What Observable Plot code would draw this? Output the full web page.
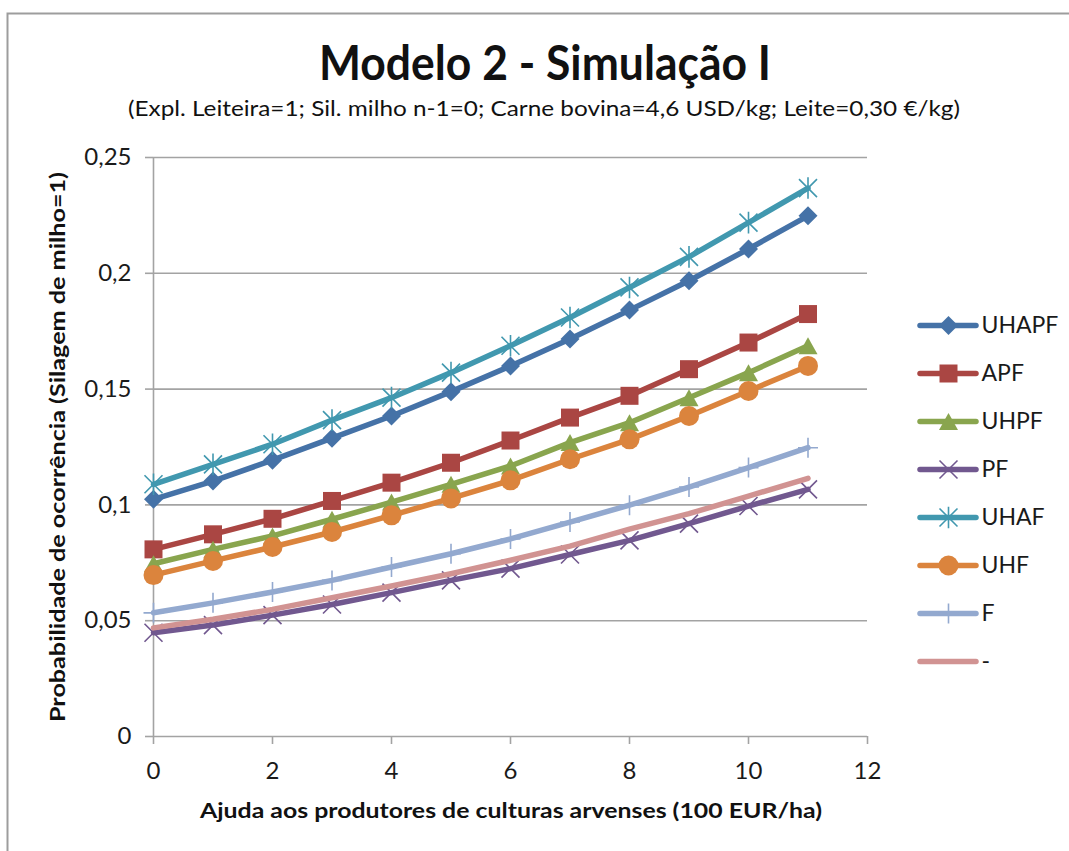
<!DOCTYPE html>
<html>
<head>
<meta charset="utf-8">
<script src="https://cdn.jsdelivr.net/npm/d3@7"></script>
<script src="https://cdn.jsdelivr.net/npm/@observablehq/plot@0.6"></script>
<style>
  body { margin: 0; background: #fff; }
  #chart { position: relative; width: 1069px; height: 851px; overflow: hidden; font-family: Lato, "Open Sans", sans-serif; }
  #chart > svg { position: absolute; }
</style>
</head>
<body>
<div id="chart"></div>
<script>
// Ajuda aos produtores de culturas arvenses (100 EUR/ha)
const ajuda = [0, 1, 2, 3, 4, 5, 6, 7, 8, 9, 10, 11];

// Probabilidade de ocorrência (Silagem de milho = 1), por cenário
const UHAPF = [0.1024, 0.1103, 0.1193, 0.1288, 0.1384, 0.1489, 0.1600, 0.1716, 0.1841, 0.1968, 0.2105, 0.2248];
const APF   = [0.0808, 0.0873, 0.0940, 0.1017, 0.1096, 0.1182, 0.1278, 0.1377, 0.1471, 0.1586, 0.1701, 0.1824];
const UHPF  = [0.0746, 0.0808, 0.0866, 0.0938, 0.1012, 0.1089, 0.1168, 0.1269, 0.1355, 0.1463, 0.1571, 0.1687];
const PF    = [0.0448, 0.0481, 0.0524, 0.0570, 0.0621, 0.0674, 0.0725, 0.0786, 0.0847, 0.0919, 0.0995, 0.1067];
const UHAF  = [0.1089, 0.1175, 0.1262, 0.1366, 0.1463, 0.1571, 0.1687, 0.1809, 0.1939, 0.2071, 0.2219, 0.2368];
const UHF   = [0.0697, 0.0758, 0.0818, 0.0883, 0.0955, 0.1028, 0.1106, 0.1197, 0.1283, 0.1384, 0.1492, 0.1600];
const F     = [0.0534, 0.0577, 0.0624, 0.0674, 0.0732, 0.0789, 0.0853, 0.0926, 0.0999, 0.1077, 0.1161, 0.1247];
const NONE  = [0.0469, 0.0506, 0.0549, 0.0599, 0.0650, 0.0703, 0.0761, 0.0822, 0.0895, 0.0962, 0.1038, 0.1115];

const seriesNames  = ["UHAPF", "APF", "UHPF", "PF", "UHAF", "UHF", "F", "-"];
const seriesValues = [UHAPF, APF, UHPF, PF, UHAF, UHF, F, NONE];

const xTicks = [0, 2, 4, 6, 8, 10, 12];
const yTicks = [0, 0.05, 0.1, 0.15, 0.2, 0.25];

const titleText = "Modelo 2 - Simulação I";
const subtitleText = "(Expl. Leiteira=1; Sil. milho n-1=0; Carne bovina=4,6 USD/kg; Leite=0,30 €/kg)";
const xTitle = "Ajuda aos produtores de culturas arvenses (100 EUR/ha)";
const yTitle = "Probabilidade de ocorrência (Silagem de milho=1)";

// ---- styling ----
const colors = ["#4572A7", "#AA4643", "#89A54E", "#71588F", "#4198AF", "#DB843D", "#93A9CF", "#D19392"];
const gray = "#A3A3A3";
const fontStack = "Lato, 'Open Sans', sans-serif";

// marker shapes (fixed pixel geometry)
const diamondSym = { draw(c) { const r = 9.5; c.moveTo(0, -r); c.lineTo(r, 0); c.lineTo(0, r); c.lineTo(-r, 0); c.closePath(); } };
const squareSym  = { draw(c) { const r = 9;   c.rect(-r, -r, 2 * r, 2 * r); } };
const triSym     = { draw(c) { const w = 9.5, h = 8.5; c.moveTo(0, -h); c.lineTo(w, h); c.lineTo(-w, h); c.closePath(); } };
const circleSym  = { draw(c) { const r = 10;  c.moveTo(r, 0); c.arc(0, 0, r, 0, 2 * Math.PI); } };
const timesSym   = { draw(c) { const r = 9;   c.moveTo(-r, -r); c.lineTo(r, r); c.moveTo(-r, r); c.lineTo(r, -r); } };
const starSym    = { draw(c) { const r = 9;   c.moveTo(-r, -r); c.lineTo(r, r); c.moveTo(-r, r); c.lineTo(r, -r); c.moveTo(0, -r * 1.2); c.lineTo(0, r * 1.2); } };
const plusSym    = { draw(c) { const r = 10;  c.moveTo(0, -r); c.lineTo(0, r); c.moveTo(-r, 0); c.lineTo(r, 0); } };

const markers = [
  { symbol: diamondSym, filled: true },
  { symbol: squareSym,  filled: true },
  { symbol: triSym,     filled: true },
  { symbol: timesSym,   filled: false },
  { symbol: starSym,    filled: false },
  { symbol: circleSym,  filled: true },
  { symbol: plusSym,    filled: false },
  null
];

const rows = seriesNames.map((name, i) => ajuda.map((x, j) => ({ name, x, y: seriesValues[i][j] })));

function dotStyle(m, color) {
  return m.filled
    ? { symbol: m.symbol, fill: color, stroke: "none" }
    : { symbol: m.symbol, fill: "none", stroke: color, strokeWidth: 1.6 };
}

const commaFormat = d => String(d).replace(".", ",");

const seriesMarks = [];
rows.forEach((data, i) => {
  seriesMarks.push(Plot.line(data, {
    x: "x", y: "y", stroke: colors[i], strokeWidth: 5.5,
    strokeLinejoin: "round", strokeLinecap: "round"
  }));
  if (markers[i]) seriesMarks.push(Plot.dot(data, { x: "x", y: "y", r: 6, ...dotStyle(markers[i], colors[i]) }));
});

const chart = Plot.plot({
  width: 1069,
  height: 851,
  marginLeft: 153,
  marginRight: 202,
  marginTop: 157,
  marginBottom: 115,
  style: { fontFamily: fontStack, fontSize: "24px", color: "#000", background: "transparent", overflow: "visible" },
  x: { domain: [0, 12] },
  y: { domain: [0, 0.25] },
  marks: [
    Plot.ruleY(yTicks.filter(d => d > 0), { x1: 0, x2: 12, stroke: gray, strokeWidth: 1.6 }),
    Plot.ruleX([0], { y1: 0, y2: 0.25, stroke: gray, strokeWidth: 1.6 }),
    Plot.ruleY([0], { x1: 0, x2: 12, stroke: gray, strokeWidth: 1.6 }),
    Plot.axisY(yTicks, { tickSize: 8, tickPadding: 14, tickFormat: commaFormat, fontSize: 24, stroke: gray, strokeWidth: 1.6, label: null, fill: "#1a1a1a" }),
    Plot.axisX(xTicks, { tickSize: 8, tickPadding: 17, tickFormat: commaFormat, fontSize: 24, stroke: gray, strokeWidth: 1.6, label: null, fill: "#1a1a1a" }),
    ...seriesMarks
  ]
});
chart.style.left = "0px";
chart.style.top = "0px";
document.getElementById("chart").appendChild(chart);

// ---- legend ----
const legendMarks = [];
seriesNames.forEach((name, i) => {
  legendMarks.push(Plot.ruleY([name], { x1: 8, x2: 64, stroke: colors[i], strokeWidth: 5.5, strokeLinecap: "round" }));
  if (markers[i]) legendMarks.push(Plot.dot([name], { x: 36, y: d => d, r: 6, ...dotStyle(markers[i], colors[i]) }));
});
legendMarks.push(Plot.text(seriesNames, { x: 69, y: d => d, text: d => d, textAnchor: "start", fontSize: 23, fill: "#1a1a1a" }));

const legend = Plot.plot({
  width: 157,
  height: 390,
  margin: 0,
  style: { fontFamily: fontStack, background: "transparent", overflow: "visible" },
  x: { domain: [0, 157], range: [0, 157], axis: null },
  y: { type: "point", domain: seriesNames, range: [24, 362], padding: 0, axis: null },
  marks: legendMarks
});
legend.style.left = "912px";
legend.style.top = "300px";
document.getElementById("chart").appendChild(legend);

// ---- titles and frame ----
const overlay = d3.create("svg")
  .attr("width", 1069).attr("height", 851)
  .style("left", "0px").style("top", "0px")
  .style("font-family", fontStack)
  .style("pointer-events", "none");

overlay.append("path")
  .attr("d", "M7.5,851 L7.5,13.5 L1069,13.5")
  .attr("fill", "none").attr("stroke", "#9D9D9D").attr("stroke-width", 2);

overlay.append("text")
  .attr("x", 319).attr("y", 80)
  .attr("font-size", 48).attr("font-weight", "bold").attr("fill", "#111")
  .attr("textLength", 452).attr("lengthAdjust", "spacingAndGlyphs")
  .text(titleText);

overlay.append("text")
  .attr("x", 128).attr("y", 116)
  .attr("font-size", 21.5).attr("fill", "#111")
  .attr("textLength", 832).attr("lengthAdjust", "spacingAndGlyphs")
  .text(subtitleText);

overlay.append("text")
  .attr("x", 200).attr("y", 818)
  .attr("font-size", 20).attr("font-weight", "bold").attr("fill", "#111")
  .attr("textLength", 622).attr("lengthAdjust", "spacingAndGlyphs")
  .text(xTitle);

overlay.append("text")
  .attr("transform", "translate(65,722) rotate(-90)")
  .attr("x", 0).attr("y", 0)
  .attr("font-size", 20).attr("font-weight", "bold").attr("fill", "#111")
  .attr("textLength", 550).attr("lengthAdjust", "spacingAndGlyphs")
  .text(yTitle);

document.getElementById("chart").appendChild(overlay.node());
</script>
</body>
</html>
